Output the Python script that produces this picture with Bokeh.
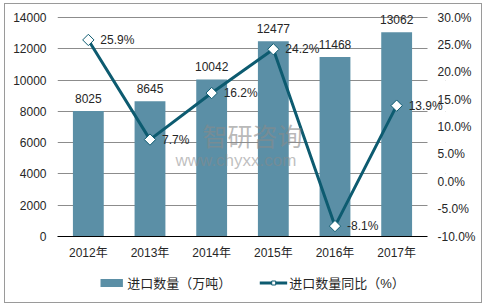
from bokeh.plotting import figure
from bokeh.layouts import column
from bokeh.models import (Range1d, LinearAxis, FixedTicker, PrintfTickFormatter,
                          Legend, LegendItem, ColumnDataSource, Label, LabelSet,
                          BoxAnnotation)
from bokeh.core.properties import value
from bokeh.embed import file_html
from bokeh.resources import INLINE

years = ["2012年", "2013年", "2014年", "2015年", "2016年", "2017年"]
volume = [8025, 8645, 10042, 12477, 11468, 13062]
yoy = [25.9, 7.7, 16.2, 24.2, -8.1, 13.9]
left_ticks = [0, 2000, 4000, 6000, 8000, 10000, 12000, 14000]
right_ticks = [-10, -5, 0, 5, 10, 15, 20, 25, 30]

FONT = "Liberation Sans, Noto Sans CJK SC"
TXT = "#262626"
BAR = "#5b8fa6"
LINE = "#0d5b70"

xpos = [i + 0.5 for i in range(len(years))]
n = len(years)
# frame extends a little above the 14000 / 30% line so value labels are not clipped
TOPX = 228 / 219

src = ColumnDataSource(dict(
    x=xpos, v=volume, p=yoy,
    vl=[str(v) for v in volume],
    pl=[f"{p:.1f}%" for p in yoy],
))

p = figure(width=476, height=258, x_range=Range1d(0, n + 0.292),
           y_range=Range1d(0, 14000 * TOPX),
           output_backend="svg", toolbar_location=None,
           min_border_left=52, min_border_right=36, min_border_top=4,
           min_border_bottom=26)
p.extra_y_ranges = {"pct": Range1d(-10, -10 + 40 * TOPX)}
p.outline_line_color = None
p.background_fill_color = "white"
p.border_fill_color = "white"

# axes
p.yaxis.ticker = FixedTicker(ticks=left_ticks)
p.xaxis.ticker = FixedTicker(ticks=xpos)
p.xaxis.major_label_overrides = {x: y for x, y in zip(xpos, years)}
p.xaxis.bounds = (0, n)
for ax in (p.yaxis[0], p.xaxis[0]):
    ax.major_tick_line_color = None
    ax.minor_tick_line_color = None
    ax.major_tick_out = 0
    ax.major_tick_in = 0
    ax.major_label_text_font = FONT
    ax.major_label_text_font_size = "12px"
    ax.major_label_text_color = TXT
p.yaxis.axis_line_color = None
p.yaxis.major_label_standoff = 11
p.xaxis.axis_line_color = "#000000"
p.xaxis.axis_line_width = 1
p.xaxis.major_label_standoff = 9

ra = LinearAxis(y_range_name="pct", ticker=FixedTicker(ticks=right_ticks),
                formatter=PrintfTickFormatter(format="%.1f%%"))
ra.axis_line_color = None
ra.major_tick_line_color = None
ra.minor_tick_line_color = None
ra.major_tick_out = 0
ra.major_tick_in = 0
ra.major_label_standoff = -8
ra.major_label_text_font = FONT
ra.major_label_text_font_size = "12px"
ra.major_label_text_color = TXT
p.add_layout(ra, "right")

p.xgrid.grid_line_color = None
p.ygrid.grid_line_color = "#8c8c8c"
p.ygrid.grid_line_width = 1
p.ygrid.ticker = FixedTicker(ticks=left_ticks)
# keep grid lines inside the category area
p.add_layout(BoxAnnotation(left=n, fill_color="white", fill_alpha=1,
                           line_color=None, level="underlay"))

bars = p.vbar(x="x", top="v", width=0.5, source=src, fill_color=BAR, line_color=None)
p.add_layout(LabelSet(x="x", y="v", text="vl", source=src, text_align="center",
                      text_baseline="bottom", y_offset=8,
                      text_font=value("Liberation Sans"), text_font_size="12px",
                      text_color=TXT))

p.line(x="x", y="p", source=src, y_range_name="pct", line_color=LINE, line_width=3)
p.scatter(x="x", y="p", source=src, y_range_name="pct", marker="square",
          angle=0.785398, size=8, fill_color="white", line_color=LINE, line_width=1)

# watermark
p.add_layout(Label(x=197, y=146, x_units="canvas", y_units="canvas",
                   text="智研咨询", text_font=FONT, text_font_size="25px",
                   text_color="#8a8a8a", text_alpha=0.6))
p.add_layout(Label(x=170, y=165, x_units="canvas", y_units="canvas",
                   text="www.chyxx.com", text_font=FONT, text_font_size="17px",
                   text_color="#8a8a8a", text_alpha=0.55))

p.add_layout(LabelSet(x="x", y="p", text="pl", source=src, y_range_name="pct",
                      text_align="left", text_baseline="middle", x_offset=12,
                      text_font=value("Liberation Sans"), text_font_size="12px",
                      text_color=TXT))

# legend strip
lg = figure(width=476, height=40, x_range=Range1d(0, 1), y_range=Range1d(0, 1),
            output_backend="svg", toolbar_location=None,
            min_border_left=0, min_border_right=0, min_border_top=0,
            min_border_bottom=0)
lg.axis.visible = False
lg.grid.visible = False
lg.outline_line_color = None
lg.border_fill_color = "white"
offscreen = ColumnDataSource(dict(x=[-5, -4], y=[-5, -4]))
r_bar = lg.vbar(x="x", top="y", width=0.5, source=offscreen, fill_color=BAR, line_color=None)
r_ln = lg.line(x="x", y="y", source=offscreen, line_color=LINE, line_width=3)
r_mk = lg.scatter(x="x", y="y", source=offscreen, marker="square", angle=0.785398,
                  size=6, fill_color="white", line_color=LINE, line_width=1)
legend = Legend(items=[LegendItem(label="进口数量（万吨）", renderers=[r_bar]),
                       LegendItem(label="进口数量同比（%）", renderers=[r_ln, r_mk])],
                orientation="horizontal", location="center",
                glyph_width=28, glyph_height=10, label_standoff=2, spacing=28,
                label_text_font=FONT, label_text_font_size="13px",
                label_text_color=TXT, border_line_color=None,
                background_fill_alpha=0, padding=0, margin=0)
lg.add_layout(legend, "center")

layout = column(p, lg, spacing=0, margin=(3, 0, 0, 4),
                styles={"border": "1px solid #9a9a9a"})

open("out.html", "w").write(file_html(layout, INLINE))
